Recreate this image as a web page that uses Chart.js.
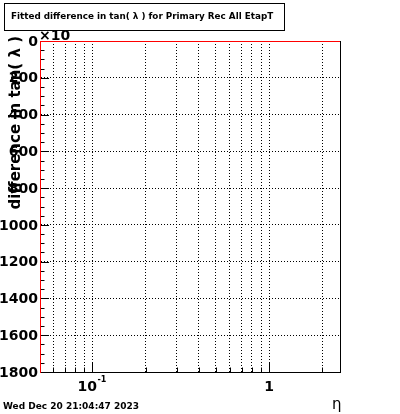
<!DOCTYPE html>
<html lang="en">
<head>
    <meta charset="UTF-8">
    <title>Fitted difference in tan(λ)</title>
    <script src="https://cdn.jsdelivr.net/npm/chart.js"></script>
    <style>
        html, body { margin: 0; padding: 0; background: #fff; }
        #wrap { width: 400px; height: 414px; }
    </style>
</head>
<body>
<div id="wrap"><canvas id="fitChart" width="400" height="414"></canvas></div>

<script>
    // axis ranges and ticks
    const xRange = [0.0505, 2.52];
    const yRange = [0, 1800];
    const xGridValues = [0.06, 0.07, 0.08, 0.09, 0.1, 0.2, 0.3, 0.4, 0.5, 0.6, 0.7, 0.8, 0.9, 1, 2];
    const xMajorValues = [0.1, 1];
    const xMajorLabels = [['10', '-1'], ['1', '']];
    const yTickValues = [0, 200, 400, 600, 800, 1000, 1200, 1400, 1600, 1800];
    const yMinorStep = 50;

    const titleText = 'Fitted difference in tan( \u03bb ) for Primary Rec All EtapT';
    const yTitle = 'difference in tan( \u03bb )';
    const xTitle = '\u03b7';
    const dateText = 'Wed Dec 20 21:04:47 2023';

    const FONT = '"DejaVu Sans", sans-serif';

    function line(ctx, x1, y1, x2, y2) {
        ctx.beginPath();
        ctx.moveTo(x1, y1);
        ctx.lineTo(x2, y2);
        ctx.stroke();
    }

    // ROOT style frame: inner ticks, labels, title box, date
    const rootFrame = {
        id: 'rootFrame',
        afterDraw(chart) {
            const {ctx, chartArea: a, scales: {x, y}} = chart;
            ctx.save();
            ctx.strokeStyle = '#000';
            ctx.lineWidth = 1;

            // y ticks (inside)
            for (let v = yRange[0] + yMinorStep; v < yRange[1]; v += yMinorStep) {
                const py = Math.round(y.getPixelForValue(v)) + 0.5;
                const len = yTickValues.includes(v) ? 9 : 4.5;
                line(ctx, a.left + 1, py, a.left + len, py);
            }
            // x ticks (inside)
            xGridValues.forEach(v => {
                const px = Math.round(x.getPixelForValue(v)) + 0.5;
                const len = xMajorValues.includes(v) ? 9 : 4.5;
                line(ctx, px, a.bottom, px, a.bottom - len);
            });

            ctx.fillStyle = '#000';
            // y labels
            ctx.font = 'bold 14px ' + FONT;
            ctx.textAlign = 'right';
            ctx.textBaseline = 'middle';
            yTickValues.forEach(v => {
                ctx.fillText(String(v), a.left - 2, y.getPixelForValue(v) + 1);
            });

            // x labels with exponent
            xMajorValues.forEach((v, i) => {
                const [base, exp] = xMajorLabels[i];
                const px = x.getPixelForValue(v);
                ctx.font = 'bold 14px ' + FONT;
                const wb = ctx.measureText(base).width;
                const x0 = exp ? px - 15 : px - wb / 2;
                ctx.textAlign = 'left';
                ctx.textBaseline = 'alphabetic';
                ctx.fillText(base, x0, a.bottom + 19);
                if (exp) {
                    ctx.font = 'bold 8px ' + FONT;
                    ctx.fillText(exp, x0 + wb + 0.5, a.bottom + 10);
                }
            });

            // x title
            ctx.font = '15px ' + FONT;
            ctx.textAlign = 'left';
            ctx.fillText(xTitle, 332, 409);

            // y title, rotated, aligned to top of axis
            ctx.font = 'bold 15px ' + FONT;
            ctx.save();
            ctx.translate(16, a.top - 5);
            ctx.rotate(-Math.PI / 2);
            ctx.textAlign = 'right';
            ctx.textBaseline = 'middle';
            ctx.fillText(yTitle, 0, 0);
            ctx.restore();

            // exponent marker, partly hidden by the title box
            ctx.font = 'bold 14px ' + FONT;
            ctx.textAlign = 'left';
            ctx.textBaseline = 'alphabetic';
            ctx.fillText('\u00d710', a.left - 1, a.top - 1);

            // title box
            ctx.fillStyle = '#fff';
            ctx.fillRect(4, 3, 281, 27);
            ctx.strokeRect(4.5, 3.5, 280, 27);
            ctx.fillStyle = '#000';
            ctx.font = 'bold 8.8px ' + FONT;
            ctx.textBaseline = 'middle';
            ctx.fillText(titleText, 11, 17);

            // date stamp
            ctx.font = 'bold 9px ' + FONT;
            ctx.textBaseline = 'alphabetic';
            ctx.fillText(dateText, 3, 409);
            ctx.restore();
        }
    };

    const dotted = [1, 2];

    new Chart(document.getElementById('fitChart'), {
        type: 'scatter',
        data: { datasets: [] },
        options: {
            responsive: false,
            animation: false,
            layout: { padding: { left: 40, top: 41, right: 60, bottom: 42 } },
            plugins: { legend: { display: false }, tooltip: { enabled: false } },
            scales: {
                x: {
                    type: 'logarithmic',
                    position: 'bottom',
                    min: xRange[0],
                    max: xRange[1],
                    afterBuildTicks: s => { s.ticks = xGridValues.map(v => ({ value: v })); },
                    ticks: { display: false },
                    grid: { color: '#000', drawTicks: false, lineWidth: 1 },
                    border: { color: '#000', width: 1, dash: dotted }
                },
                xTop: {
                    type: 'linear',
                    position: 'top',
                    ticks: { display: false },
                    grid: { drawOnChartArea: false, drawTicks: false },
                    border: { color: '#ff0000', width: 1 }
                },
                y: {
                    type: 'linear',
                    position: 'left',
                    reverse: true,
                    min: yRange[0],
                    max: yRange[1],
                    afterBuildTicks: s => { s.ticks = yTickValues.map(v => ({ value: v })); },
                    ticks: { display: false },
                    grid: {
                        color: c => (c.tick && (c.tick.value === yRange[0] || c.tick.value === yRange[1])) ? 'rgba(0,0,0,0)' : '#000',
                        drawTicks: false,
                        lineWidth: 1
                    },
                    border: { color: '#ff0000', width: 1, dash: dotted }
                },
                yRight: {
                    type: 'linear',
                    position: 'right',
                    ticks: { display: false },
                    grid: { drawOnChartArea: false, drawTicks: false },
                    border: { color: '#000', width: 1 }
                }
            }
        },
        plugins: [rootFrame]
    });
</script>
</body>
</html>
